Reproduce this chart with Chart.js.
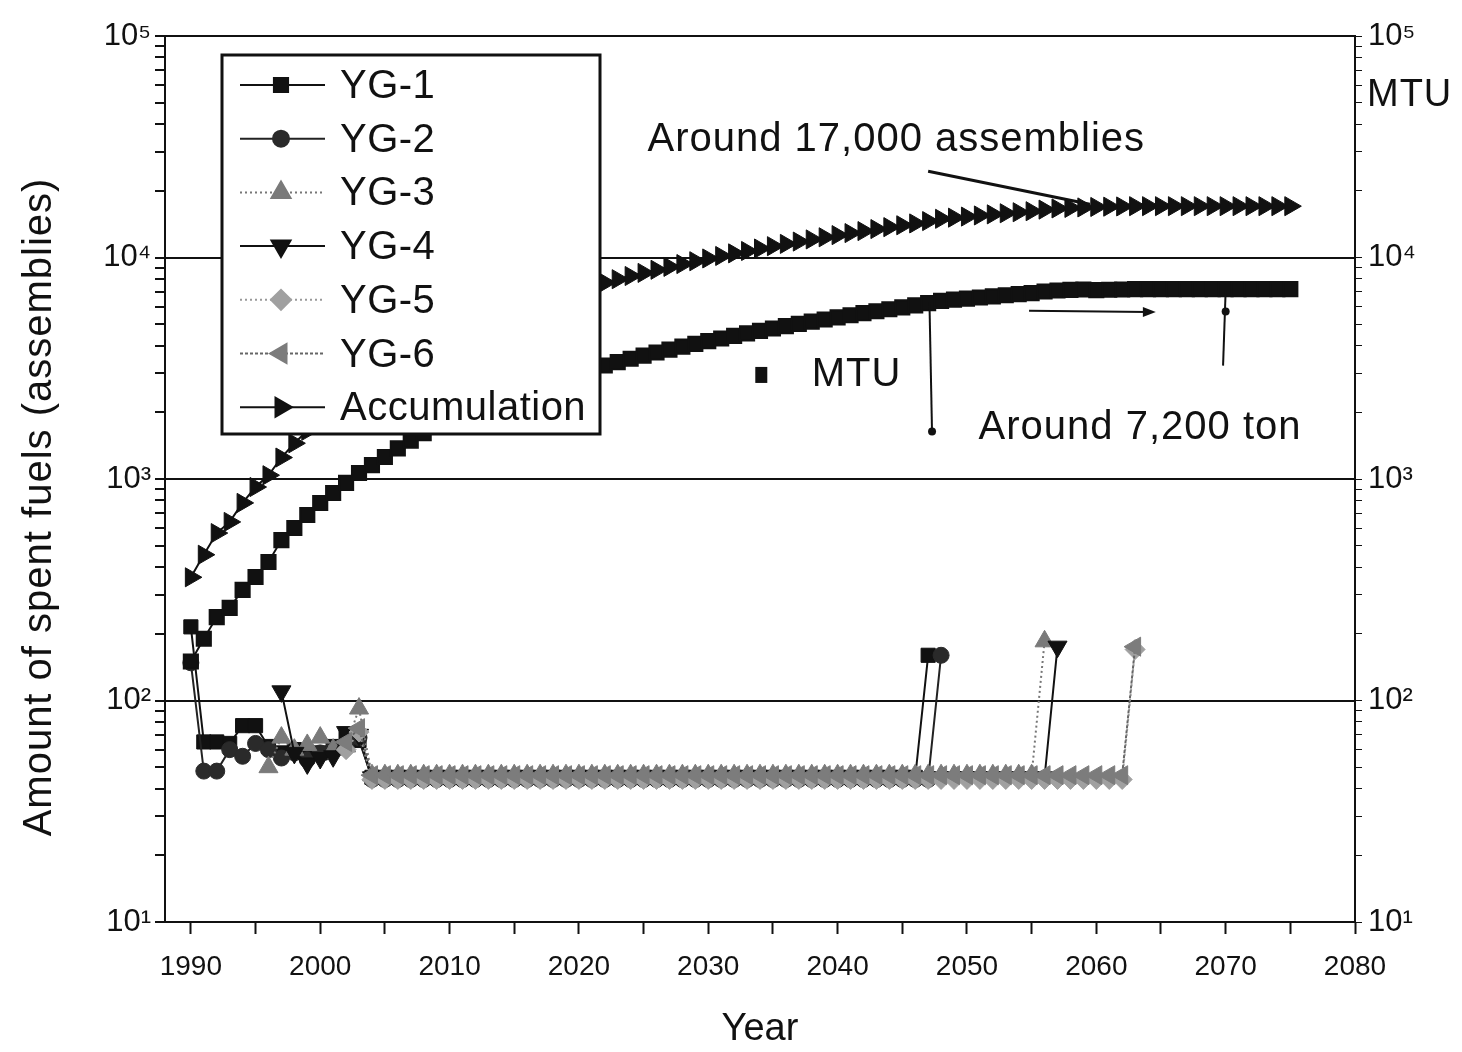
<!DOCTYPE html>
<html>
<head>
<meta charset="utf-8">
<script src="https://cdn.jsdelivr.net/npm/chart.js@4.4.0/dist/chart.umd.min.js"></script>
<style>
    html, body { margin: 0; padding: 0; background: #fff; }
    #wrap { width: 1462px; height: 1052px; }
</style>
</head>
<body>
<div id="wrap"><canvas id="chart" width="1462" height="1052"></canvas></div>
<script>
// ---- data ----
const years = [
    1990,1991,1992,1993,1994,1995,1996,1997,1998,1999,
    2000,2001,2002,2003,2004,2005,2006,2007,2008,2009,
    2010,2011,2012,2013,2014,2015,2016,2017,2018,2019,
    2020,2021,2022,2023,2024,2025,2026,2027,2028,2029,
    2030,2031,2032,2033,2034,2035,2036,2037,2038,2039,
    2040,2041,2042,2043,2044,2045,2046,2047,2048,2049,
    2050,2051,2052,2053,2054,2055,2056,2057,2058,2059,
    2060,2061,2062,2063,2064,2065,2066,2067,2068,2069,
    2070,2071,2072,2073,2074,2075
];

const yg1 = [
    215,65,65,64,77,77,62,58,60,56,
    58,62,70,66,45,45,45,45,45,45,
    45,45,45,45,45,45,45,45,45,45,
    45,45,45,45,45,45,45,45,45,45,
    45,45,45,45,45,45,45,45,45,45,
    45,45,45,45,45,45,45,160,null,null,
    null,null,null,null,null,null,null,null,null,null,
    null,null,null,null,null,null,null,null,null,null,
    null,null,null,null,null,null
];
const yg2 = [
    148,48,48,60,56,64,60,55,58,54,
    58,60,62,68,44,44,44,44,44,44,
    44,44,44,44,44,44,44,44,44,44,
    44,44,44,44,44,44,44,44,44,44,
    44,44,44,44,44,44,44,44,44,44,
    44,44,44,44,44,44,44,44,160,null,
    null,null,null,null,null,null,null,null,null,null,
    null,null,null,null,null,null,null,null,null,null,
    null,null,null,null,null,null
];
const yg3 = [
    null,null,null,null,null,null,50,68,60,63,
    68,60,62,92,46,46,46,46,46,46,
    46,46,46,46,46,46,46,46,46,46,
    46,46,46,46,46,46,46,46,46,46,
    46,46,46,46,46,46,46,46,46,46,
    46,46,46,46,46,46,46,46,46,46,
    46,46,46,46,46,46,185,null,null,null,
    null,null,null,null,null,null,null,null,null,null,
    null,null,null,null,null,null
];
const yg4 = [
    null,null,null,null,null,null,null,110,58,52,
    55,56,72,70,45,45,45,45,45,45,
    45,45,45,45,45,45,45,45,45,45,
    45,45,45,45,45,45,45,45,45,45,
    45,45,45,45,45,45,45,45,45,45,
    45,45,45,45,45,45,45,45,45,45,
    45,45,45,45,45,45,45,175,null,null,
    null,null,null,null,null,null,null,null,null,null,
    null,null,null,null,null,null
];
const yg5 = [
    null,null,null,null,null,null,null,null,null,null,
    null,null,60,72,44,44,44,44,44,44,
    44,44,44,44,44,44,44,44,44,44,
    44,44,44,44,44,44,44,44,44,44,
    44,44,44,44,44,44,44,44,44,44,
    44,44,44,44,44,44,44,44,44,44,
    44,44,44,44,44,44,44,44,44,44,
    44,44,44,170,null,null,null,null,null,null,
    null,null,null,null,null,null
];
const yg6 = [
    null,null,null,null,null,null,null,null,null,null,
    null,null,65,75,46,46,46,46,46,46,
    46,46,46,46,46,46,46,46,46,46,
    46,46,46,46,46,46,46,46,46,46,
    46,46,46,46,46,46,46,46,46,46,
    46,46,46,46,46,46,46,46,46,46,
    46,46,46,46,46,46,46,46,46,46,
    46,46,46,175,null,null,null,null,null,null,
    null,null,null,null,null,null
];
const accumulation = [
    360,455,570,640,780,920,1040,1250,1450,1650,
    1850,2050,2250,2500,2780,3050,3320,3600,3870,4150,
    4420,4700,4970,5240,5520,5800,6070,6340,6620,6900,
    7170,7440,7700,7980,8250,8520,8800,9070,9340,9620,
    9900,10160,10440,10700,10980,11250,11520,11800,12070,12340,
    12620,12890,13160,13440,13710,13980,14250,14600,14950,15130,
    15300,15480,15660,15840,16010,16180,16450,16650,16740,16830,
    16910,16960,17000,17050,17050,17050,17050,17050,17050,17050,
    17050,17050,17050,17050,17050,17050
];
const mtu = [
    150,190,238,262,316,361,422,530,601,688,
    779,865,960,1064,1156,1257,1375,1490,1610,1725,
    1845,1960,2080,2195,2315,2430,2550,2665,2785,2900,
    3020,3135,3255,3370,3490,3605,3725,3840,3960,4075,
    4195,4310,4430,4545,4665,4780,4900,5015,5135,5250,
    5370,5485,5605,5720,5840,5955,6075,6220,6370,6450,
    6525,6600,6680,6755,6830,6905,7020,7100,7140,7170,
    7120,7150,7170,7200,7200,7200,7200,7200,7200,7200,
    7200,7200,7200,7200,7200,7200
];

const xTicks = [1990,1995,2000,2005,2010,2015,2020,2025,2030,2035,2040,2045,2050,2055,2060,2065,2070,2075,2080];
const yDecades = [10,100,1000,10000,100000];
const yLabels = ['10\u00B9','10\u00B2','10\u00B3','10\u2074','10\u2075'];

const TXT = "'Liberation Sans', Arial, sans-serif";
const NUM = "'Liberation Sans Narrow', 'Liberation Sans', Arial, sans-serif";
const INK = '#111';

const yTickValues = [];
yDecades.forEach((d, i) => {
    yTickValues.push(d);
    if (i < yDecades.length - 1) for (let m = 2; m <= 9; m++) yTickValues.push(d * m);
});

const pts = vals => years.map((yr, i) => ({x: yr, y: vals[i]}));

const series = [
    {label: 'YG-1', data: yg1, color: '#111', fill: '#111', style: 'rect', rot: 0, r: 10, dash: [], order: 6},
    {label: 'YG-2', data: yg2, color: '#222', fill: '#2a2a2a', style: 'circle', rot: 0, r: 8, dash: [], order: 5},
    {label: 'YG-3', data: yg3, color: '#777', fill: '#7a7a7a', style: 'triangle', rot: 0, r: 11, dash: [2, 3], order: 4},
    {label: 'YG-4', data: yg4, color: '#111', fill: '#111', style: 'triangle', rot: 180, r: 11, dash: [], order: 3},
    {label: 'YG-5', data: yg5, color: '#999', fill: '#a0a0a0', style: 'rectRot', rot: 0, r: 10, dash: [2, 3], order: 2},
    {label: 'YG-6', data: yg6, color: '#666', fill: '#7c7c7c', style: 'triangle', rot: 270, r: 11, dash: [3, 2], order: 1},
    {label: 'Accumulation', data: accumulation, color: '#111', fill: '#111', style: 'triangle', rot: 90, r: 11, dash: [], order: 0}
];

const datasets = series.map(s => ({
    label: s.label,
    data: pts(s.data),
    borderColor: s.color,
    backgroundColor: s.fill,
    borderWidth: 2,
    borderDash: s.dash,
    pointStyle: s.style,
    pointRotation: s.rot,
    pointRadius: s.r,
    pointBorderWidth: 1,
    pointBorderColor: s.fill,
    pointBackgroundColor: s.fill,
    tension: 0,
    order: s.order
}));

datasets.push({
    label: 'MTU',
    data: pts(mtu),
    yAxisID: 'y2',
    borderColor: '#111',
    backgroundColor: '#111',
    borderWidth: 2,
    pointStyle: 'rect',
    pointRadius: 10,
    pointBackgroundColor: '#111',
    pointBorderColor: '#111',
    tension: 0,
    order: 0
});

// annotations, text and the in-plot legend box
const overlay = {
    id: 'overlay',
    afterDatasetsDraw(chart) {
        const {ctx, chartArea: area, scales: {x, y}} = chart;
        const px = v => x.getPixelForValue(v);
        const py = v => y.getPixelForValue(v);
        const seg = (x1, y1, x2, y2) => { ctx.beginPath(); ctx.moveTo(x1, y1); ctx.lineTo(x2, y2); ctx.stroke(); };
        const dot = (cx, cy, r) => { ctx.beginPath(); ctx.arc(cx, cy, r, 0, Math.PI * 2); ctx.fill(); };

        ctx.save();
        ctx.fillStyle = INK;
        ctx.strokeStyle = INK;
        ctx.textBaseline = 'middle';
        ctx.textAlign = 'left';
        ctx.font = `40px ${TXT}`;
        ctx.letterSpacing = '1px';

        ctx.fillText('Around 17,000 assemblies', px(2025.3), py(34000));
        ctx.lineWidth = 3;
        seg(px(2047), py(24500), px(2059.5), py(17400));

        ctx.fillRect(px(2034.1) - 6, py(2950) - 8, 12, 16);
        ctx.fillText('MTU', px(2038), py(2950));
        ctx.fillText('Around 7,200 ton', px(2050.9), py(1700));

        ctx.lineWidth = 2;
        seg(px(2047.1), py(6300), px(2047.3), py(1630));
        dot(px(2047.3), py(1640), 4);
        seg(px(2054.8), py(5750), px(2064), py(5680));
        ctx.beginPath();
        ctx.moveTo(px(2064.6), py(5680));
        ctx.lineTo(px(2063.6), py(5680) - 5);
        ctx.lineTo(px(2063.6), py(5680) + 5);
        ctx.closePath();
        ctx.fill();
        seg(px(2070), py(7100), px(2069.8), py(3250));
        dot(px(2070), py(5700), 4);

        // right axis unit
        ctx.font = `38px ${TXT}`;
        ctx.fillText('MTU', area.right + 12, 96);

        // left axis title, drawn by hand to match its placement
        ctx.save();
        ctx.translate(40, 507);
        ctx.rotate(-Math.PI / 2);
        ctx.textAlign = 'center';
        ctx.font = `40px ${TXT}`;
        ctx.letterSpacing = '1px';
        ctx.fillText('Amount of spent fuels (assemblies)', 0, 0);
        ctx.restore();

        // legend
        const lx = 222, ly = 55, lw = 378, lh = 379;
        ctx.fillStyle = '#fff';
        ctx.fillRect(lx, ly, lw, lh);
        ctx.lineWidth = 3;
        ctx.strokeStyle = INK;
        ctx.strokeRect(lx, ly, lw, lh);
        ctx.font = `40px ${TXT}`;
        ctx.letterSpacing = '0.5px';
        series.forEach((s, i) => {
            const cy = 85 + i * 53.7;
            ctx.strokeStyle = s.color;
            ctx.lineWidth = 2;
            ctx.setLineDash(s.dash);
            seg(240, cy, 325, cy);
            ctx.setLineDash([]);
            ctx.fillStyle = s.fill;
            ctx.strokeStyle = s.fill;
            Chart.helpers.drawPoint(ctx, {pointStyle: s.style, rotation: s.rot, radius: s.r, borderWidth: 1}, 281, cy);
            ctx.fillStyle = INK;
            ctx.fillText(s.label, 340, cy + 2);
        });
        ctx.restore();
    }
};

new Chart(document.getElementById('chart'), {
    type: 'line',
    data: {datasets},
    plugins: [overlay],
    options: {
        responsive: false,
        animation: false,
        layout: {padding: {top: 36, left: 0, right: 0, bottom: 0}},
        plugins: {legend: {display: false}, tooltip: {enabled: false}},
        scales: {
            x: {
                type: 'linear', min: 1988, max: 2080,
                afterBuildTicks: s => { s.ticks = xTicks.map(v => ({value: v})); },
                afterFit: s => { s.height = 130; },
                ticks: {
                    autoSkip: false, maxRotation: 0, padding: 16, color: INK,
                    font: {family: NUM, size: 28},
                    callback: v => (v % 10 === 0 ? String(v) : '')
                },
                grid: {drawOnChartArea: false, tickLength: 12, tickColor: INK, tickWidth: 2},
                border: {color: INK, width: 2},
                title: {display: true, text: 'Year', color: INK, font: {family: TXT, size: 38}, padding: {top: 22, bottom: 0}}
            },
            y: {
                type: 'logarithmic', position: 'left', min: 10, max: 100000,
                afterBuildTicks: s => { s.ticks = yTickValues.map(v => ({value: v})); },
                afterFit: s => { s.width = 165; },
                ticks: {
                    autoSkip: false, padding: 4, color: INK,
                    font: {family: NUM, size: 31},
                    callback: v => { const k = yDecades.indexOf(v); return k >= 0 ? yLabels[k] : ''; }
                },
                grid: {
                    tickLength: 10, tickColor: INK, lineWidth: 2,
                    color: c => (c.tick && [100, 1000, 10000, 100000].includes(c.tick.value) ? INK : 'rgba(0,0,0,0)')
                },
                border: {color: INK, width: 2}
            },
            y2: {
                type: 'logarithmic', position: 'right', min: 10, max: 100000,
                afterBuildTicks: s => { s.ticks = yTickValues.map(v => ({value: v})); },
                afterFit: s => { s.width = 107; },
                ticks: {
                    autoSkip: false, padding: 6, color: INK,
                    font: {family: NUM, size: 31},
                    callback: v => { const k = yDecades.indexOf(v); return k >= 0 ? yLabels[k] : ''; }
                },
                grid: {drawOnChartArea: false, tickLength: 7, tickColor: INK},
                border: {color: INK, width: 2}
            }
        }
    }
});
</script>
</body>
</html>
